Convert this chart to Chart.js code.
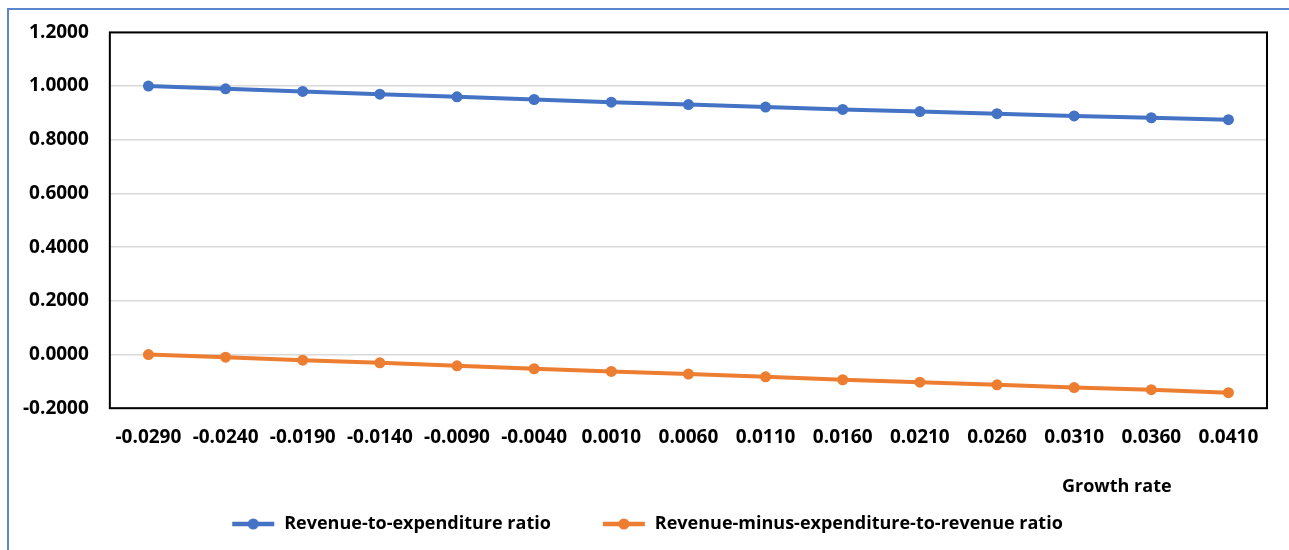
<!DOCTYPE html>
<html>
<head>
<meta charset="utf-8">
<script src="https://cdn.jsdelivr.net/npm/chart.js@4/dist/chart.umd.min.js"></script>
<style>
    html, body { margin: 0; padding: 0; background: #fff; }
    #wrap { position: relative; width: 1289px; height: 550px; }
    #frame {
        position: absolute; left: 7px; top: 8px; right: 0; bottom: 0;
        border-left: 2px solid #5b86d2; border-top: 2px solid #5b86d2;
        pointer-events: none;
    }
</style>
</head>
<body>
<div id="wrap">
    <canvas id="ratioChart" width="1289" height="550"></canvas>
    <div id="frame"></div>
</div>
<script>
const growthRates = ['-0.0290', '-0.0240', '-0.0190', '-0.0140', '-0.0090', '-0.0040', '0.0010', '0.0060',
    '0.0110', '0.0160', '0.0210', '0.0260', '0.0310', '0.0360', '0.0410'];
const revenueToExpenditure = [1.000, 0.990, 0.980, 0.970, 0.960, 0.950, 0.940, 0.931,
    0.922, 0.913, 0.905, 0.897, 0.889, 0.882, 0.875];
const surplusToRevenue = [0.000, -0.010, -0.021, -0.031, -0.042, -0.053, -0.063, -0.073,
    -0.083, -0.094, -0.103, -0.113, -0.123, -0.131, -0.142];
const yTicks = [-0.2, 0, 0.2, 0.4, 0.6, 0.8, 1.0, 1.2];

const BLUE = '#4472c4';
const ORANGE = '#ed7d31';
const TICK_FONT = { family: '"Open Sans", sans-serif', size: 19, weight: 'bold' };
const LEGEND_FONT = { family: '"Open Sans", sans-serif', size: 18, weight: 'bold' };

// legend marker: line with a dot, drawn right-aligned in the box
function legendIcon(color, blank) {
    const c = document.createElement('canvas');
    c.width = 44 + blank;
    c.height = 14;
    const g = c.getContext('2d');
    g.strokeStyle = color;
    g.lineWidth = 4.5;
    g.beginPath();
    g.moveTo(blank + 1, 7);
    g.lineTo(blank + 43, 7);
    g.stroke();
    g.fillStyle = color;
    g.beginPath();
    g.arc(blank + 22, 7, 5.5, 0, Math.PI * 2);
    g.fill();
    return c;
}
const icons = [legendIcon(BLUE, 25), legendIcon(ORANGE, 25)];

const frameBox = {
    id: 'frameBox',
    afterDraw(chart) {
        const { ctx, chartArea: a } = chart;
        ctx.save();
        ctx.strokeStyle = '#000';
        ctx.lineWidth = 2;
        ctx.strokeRect(a.left, a.top, a.right - a.left, a.bottom - a.top);
        // axis caption sits left of the right edge
        ctx.font = 'bold 18px "Open Sans", sans-serif';
        ctx.fillStyle = '#000';
        ctx.textBaseline = 'middle';
        ctx.fillText('Growth rate', a.right - 205, a.bottom + 79);
        ctx.restore();
    }
};

new Chart(document.getElementById('ratioChart'), {
    type: 'line',
    data: {
        labels: growthRates,
        datasets: [{
            label: 'Revenue-to-expenditure ratio',
            data: revenueToExpenditure,
            borderColor: BLUE,
            backgroundColor: BLUE,
            borderWidth: 4,
            pointRadius: 5.5,
            pointBorderWidth: 0,
            tension: 0
        }, {
            label: 'Revenue-minus-expenditure-to-revenue ratio',
            data: surplusToRevenue,
            borderColor: ORANGE,
            backgroundColor: ORANGE,
            borderWidth: 4,
            pointRadius: 5.5,
            pointBorderWidth: 0,
            tension: 0
        }]
    },
    options: {
        responsive: false,
        animation: false,
        layout: { padding: { top: 22, right: 22, left: 2, bottom: 7 } },
        scales: {
            x: {
                offset: true,
                grid: { display: false, drawTicks: false },
                border: { display: false },
                ticks: { font: TICK_FONT, color: '#000', padding: 18, maxRotation: 0, autoSkip: false },
                afterFit: (scale) => { scale.height += 22; }
            },
            y: {
                min: -0.2,
                max: 1.2,
                afterBuildTicks: (scale) => { scale.ticks = yTicks.map(v => ({ value: v })); },
                grid: { color: '#d9d9d9', lineWidth: 1.5, drawTicks: false },
                border: { display: false },
                ticks: {
                    font: TICK_FONT, color: '#000', padding: 21,
                    callback: (v) => Number(v).toFixed(4)
                }
            }
        },
        plugins: {
            legend: {
                position: 'bottom',
                labels: {
                    font: LEGEND_FONT,
                    color: '#000',
                    usePointStyle: true,
                    pointStyleWidth: 69,
                    padding: 26,
                    generateLabels(chart) {
                        const items = Chart.defaults.plugins.legend.labels.generateLabels(chart);
                        items.forEach((item, i) => { item.pointStyle = icons[i]; });
                        return items;
                    }
                }
            },
            tooltip: { enabled: false }
        }
    },
    plugins: [frameBox]
});
</script>
</body>
</html>
